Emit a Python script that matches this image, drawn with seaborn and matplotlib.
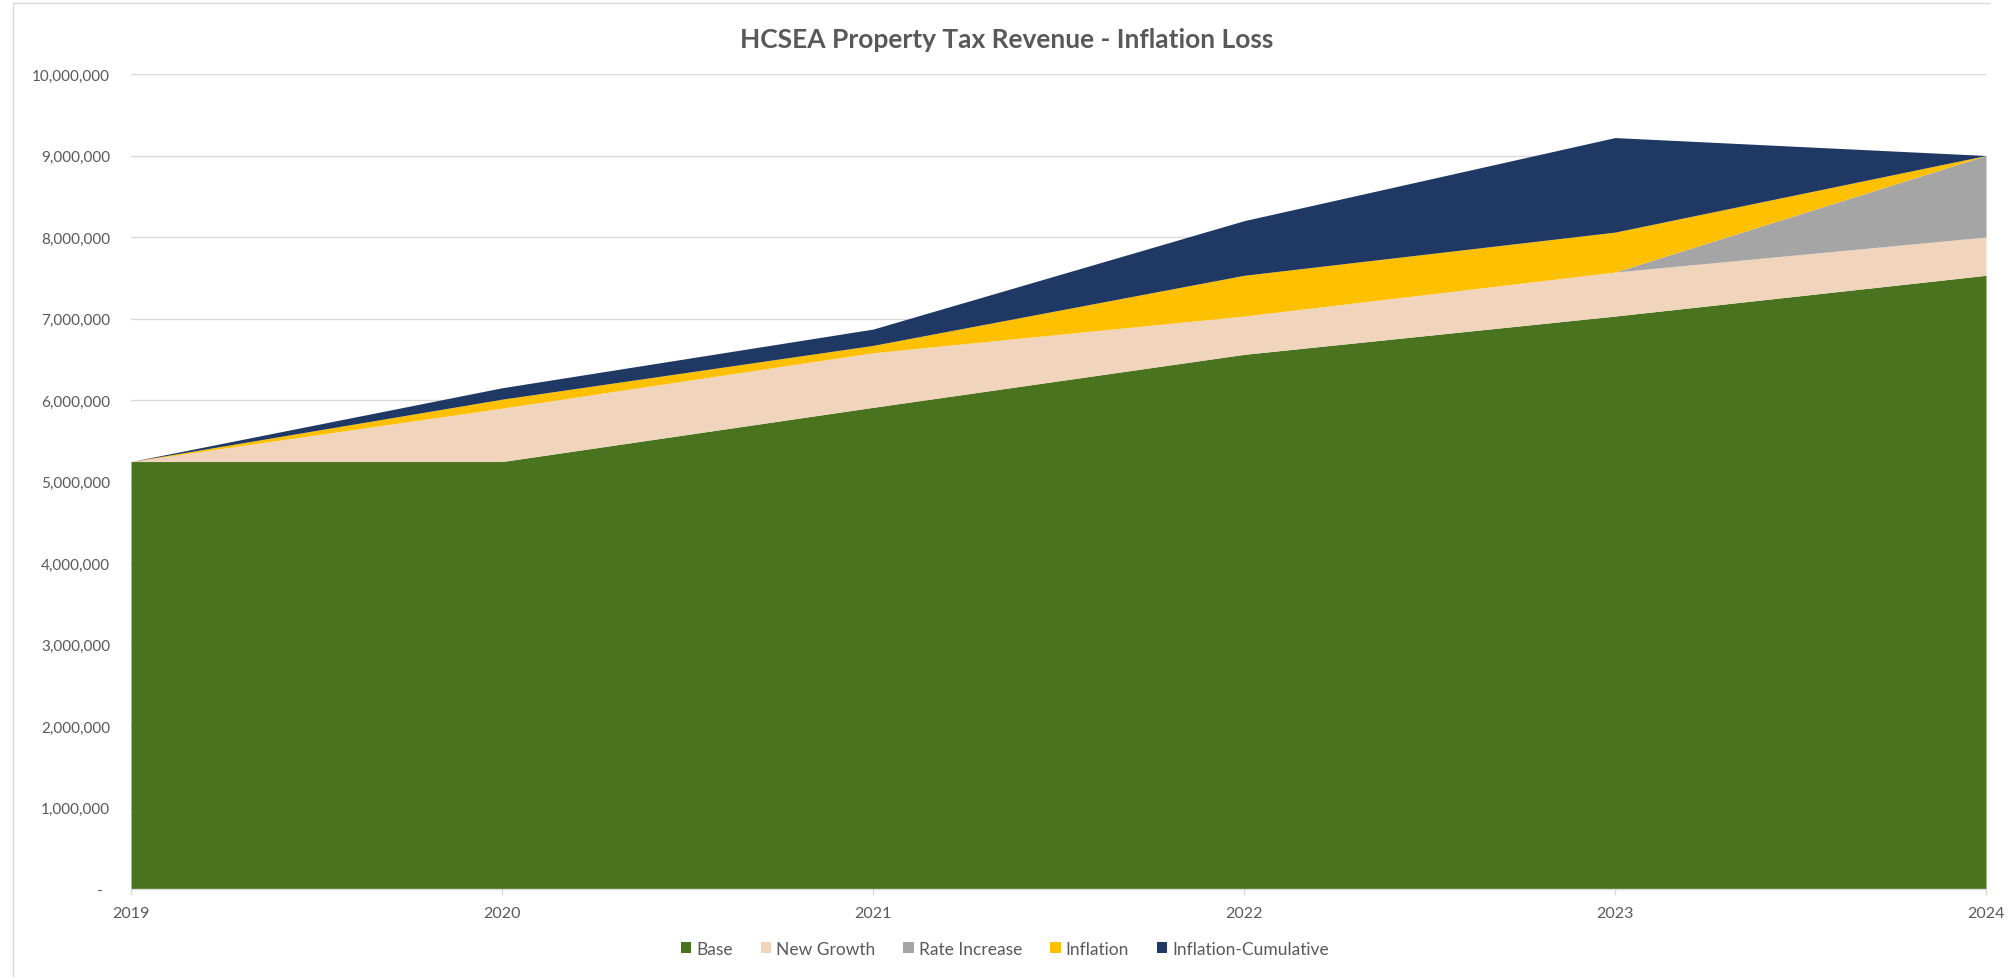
import numpy as np
import pandas as pd
import matplotlib
matplotlib.use("Agg")
import matplotlib.pyplot as plt
from matplotlib.lines import Line2D
from matplotlib.ticker import FuncFormatter
import seaborn as sns

# data (dollars)
years = [2019, 2020, 2021, 2022, 2023, 2024]
base = [5245000, 5245000, 5910000, 6560000, 7030000, 7530000]
new_growth = [0, 655000, 670000, 470000, 540000, 470000]
rate_increase = [0, 0, 0, 0, 0, 1000000]
inflation = [0, 110000, 90000, 500000, 490000, 0]
inflation_cum = [0, 140000, 200000, 670000, 1160000, 0]

series_names = ["Base", "New Growth", "Rate Increase", "Inflation", "Inflation-Cumulative"]
colors = ["#4A7320", "#F0D4BC", "#A5A5A5", "#FFC000", "#203864"]

df = pd.DataFrame({
    "Base": base,
    "New Growth": new_growth,
    "Rate Increase": rate_increase,
    "Inflation": inflation,
    "Inflation-Cumulative": inflation_cum,
}, index=years)

sns.set_theme(style="white")
plt.rcParams['font.family'] = ['Lato', 'DejaVu Sans']

W, H = 2014, 978
fig = plt.figure(figsize=(W / 100, H / 100), dpi=100)
ax = fig.add_axes([131 / W, 1 - 890 / H, (1986 - 131) / W, (890 - 75) / H])

polys = ax.stackplot(df.index, *[df[c].values for c in series_names],
                     colors=colors, labels=series_names, linewidth=0)

ax.set_xlim(years[0], years[-1])
ax.set_ylim(0, 10000000)
ax.set_yticks(np.arange(0, 10000001, 1000000))
ax.yaxis.set_major_formatter(FuncFormatter(lambda v, p: "-  " if v == 0 else f"{v:,.0f}"))
ax.set_xticks(years)
ax.set_xticklabels([str(y) for y in years])

ax.set_axisbelow(True)
ax.yaxis.grid(True, color="#D9D9D9", linewidth=1)
ax.xaxis.grid(False)

sns.despine(ax=ax, left=True, top=True, right=True, bottom=False)
ax.spines["bottom"].set_color("#D9D9D9")
ax.spines["bottom"].set_linewidth(1)

ax.tick_params(axis="y", length=0, pad=15, labelsize=11, labelcolor="#595959")
ax.tick_params(axis="x", bottom=True, length=4, width=1, color="#D9D9D9",
               pad=8, labelsize=11.5, labelcolor="#595959")

fig.text(1007 / W, 1 - 40 / H, "HCSEA Property Tax Revenue - Inflation Loss",
         ha="center", va="center", fontsize=19, fontweight="bold", color="#595959")

fig.legend(handles=polys, labels=series_names, loc="center",
           bbox_to_anchor=(1005 / W, 1 - 950 / H), ncol=5, frameon=False,
           fontsize=12.5, labelcolor="#595959", handlelength=0.6, handleheight=0.6,
           handletextpad=0.3, columnspacing=1.6)

# light chart-area border on the left and top
fig.add_artist(Line2D([13 / W, 13 / W], [0, 1 - 4 / H], transform=fig.transFigure,
                      color="#D9D9D9", linewidth=1))
fig.add_artist(Line2D([13 / W, 1990 / W], [1 - 4 / H, 1 - 4 / H], transform=fig.transFigure,
                      color="#D9D9D9", linewidth=1))

fig.savefig("out.png", dpi=100)
